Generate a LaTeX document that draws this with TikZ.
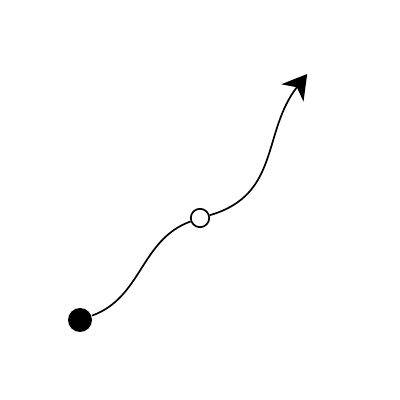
\documentclass[tikz,border=0pt]{standalone}
\usetikzlibrary{arrows.meta}
\begin{document}
\begin{tikzpicture}[line width=1.2pt,
    fulldot/.style={circle,fill=black,inner sep=0pt,minimum size=6mm},
    opendot/.style={circle,draw=black,fill=white,inner sep=0pt,minimum size=4.6mm}]
  \useasboundingbox (0,0) rectangle (10,10);

  \node[fulldot] (start) at (2.0,2.0) {};
  \node[opendot] (middle) at (5.0,4.55) {};
  \coordinate (tip) at (7.68,8.15);

  \draw (start) to[out=20,in=200] (middle);
  \draw[-{Stealth[length=6mm,width=7mm,inset=1.8mm]}] (middle) to[out=16,in=232,looseness=1.1] (tip);

\end{tikzpicture}
\end{document}
